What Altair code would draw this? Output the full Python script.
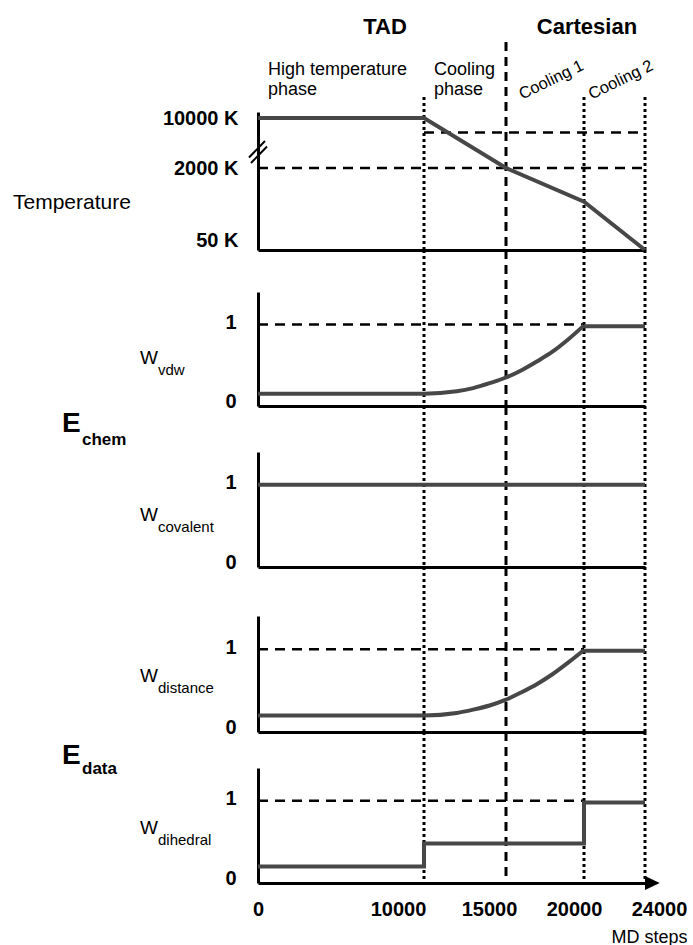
import altair as alt
import pandas as pd

FONT = "Liberation Sans"
LINE_COLOR = "#474747"

# ---------------- data ----------------
x_ticks = [0, 10000, 15000, 20000, 24000]
dotted_steps = [10000, 20000, 24000]
dashed_steps = [15000]

stage_names = ["TAD", "Cartesian"]
phase_names = ["High temperature\nphase", "Cooling\nphase"]
phase_start = [0, 10000]
cart_phase_names = ["Cooling 1", "Cooling 2"]
cart_phase_start = [15000, 20000]
cart_phase_end = [20000, 24000]

temp_steps = [0, 10000, 15000, 20000, 24000]
temp_K = [10000, 10000, 2000, 1200, 50]
temp_ticks = [50, 2000, 10000]
temp_ref_K = [2000, 7700]
temp_ref_from = [0, 10000]
temp_ref_to = [24000, 24000]

# ramps (flat start + rising curve up to 20000) and plateaus (20000-24000)
ramp_steps = [0, 10000, 12000, 13000, 14000, 15000, 16000, 17000, 18000, 19000, 20000]
vdw_w = [0.15, 0.15, 0.18, 0.22, 0.28, 0.35, 0.44, 0.55, 0.67, 0.82, 0.99]
dist_w = [0.2, 0.2, 0.23, 0.27, 0.32, 0.39, 0.48, 0.58, 0.70, 0.84, 0.99]
plateau_steps = [20000, 24000]
plateau_w = [0.98, 0.98]
cov_steps = [0, 24000]
cov_w = [1.0, 1.0]
dih_steps = [0, 10000, 20000, 24000]
dih_w = [0.2, 0.48, 0.98, 0.98]
w_ticks = [0, 1]
w_ref_level = [1.0]
w_ref_from = [0]
w_ref_to = [20000]

# ---------------- scales / axes ----------------
WIDTH = 387
XSCALE = alt.Scale(domain=x_ticks, range=[0, 166, 248, 326, 387], nice=False, zero=False)

AX_PLAIN = alt.Axis(labels=False, ticks=False, tickSize=0, grid=False, domainColor="black",
                    domainWidth=3, title=None)
AX_BOTTOM = alt.Axis(
    values=x_ticks, format="d", ticks=False, tickSize=0, grid=False, domainColor="black",
    domainWidth=3, labelFont=FONT, labelFontSize=20, labelFontWeight="bold", labelColor="black",
    labelPadding=16, labelFlush=False, labelOverlap=False,
    labelOffset={"condition": [
        {"test": "datum.value == 10000", "value": -26},
        {"test": "datum.value == 15000", "value": -17},
        {"test": "datum.value == 20000", "value": -10},
        {"test": "datum.value == 24000", "value": 14}], "value": 0},
    title="MD steps", titleFont=FONT, titleFontSize=18, titleFontWeight="normal",
    titleColor="black", titleAnchor="end", titleAlign="right", titleX=429, titleY=54,
    titleBaseline="middle")


def xenc(field, axis):
    return alt.X(f"{field}:Q", scale=XSCALE, axis=axis)


def note(text, x, y, size, weight="normal", align="left", baseline="middle"):
    return alt.Chart(pd.DataFrame({"t": [text]})).mark_text(
        font=FONT, fontSize=size, fontWeight=weight, align=align, baseline=baseline,
        color="black").encode(x=alt.value(x), y=alt.value(y), text="t:N")


def vrules(xaxis, top, bottom):
    dotted = alt.Chart(pd.DataFrame({"step": dotted_steps})).mark_rule(
        color="black", strokeWidth=3, strokeDash=[3, 3]).encode(
        x=xenc("step", xaxis), y=alt.value(top[0]), y2=alt.value(bottom))
    dashed = alt.Chart(pd.DataFrame({"step": dashed_steps})).mark_rule(
        color="black", strokeWidth=3, strokeDash=[9, 6]).encode(
        x=xenc("step", xaxis), y=alt.value(top[1]), y2=alt.value(bottom))
    return [dotted, dashed]


def w_axis():
    return alt.Axis(values=w_ticks, format="d", ticks=False, tickSize=0, grid=False,
                    domainColor="black", domainWidth=3, labelFont=FONT, labelFontSize=20,
                    labelFontWeight="bold", labelColor="black", labelPadding=22,
                    labelOffset={"condition": {"test": "datum.value == 0", "value": -5},
                                 "value": -2},
                    title=None)


def w_panel(segments, h, gap, sub, interp, ref, xaxis, wy, extra):
    ysc = alt.Scale(domain=[0, 1.4], range=[h, gap], nice=False, zero=False)
    yax = w_axis()
    layers = vrules(xaxis, (0, 0), h)
    if ref:
        layers.append(alt.Chart(pd.DataFrame({"step": w_ref_from, "end": w_ref_to,
                                              "w": w_ref_level})).mark_rule(
            color="black", strokeWidth=2.5, strokeDash=[10, 7]).encode(
            x=xenc("step", xaxis), x2="end:Q", y=alt.Y("w:Q", scale=ysc, axis=yax)))
    for steps, w in segments:
        layers.append(alt.Chart(pd.DataFrame({"step": steps, "w": w})).mark_line(
            color=LINE_COLOR, strokeWidth=4, interpolate=interp).encode(
            x=xenc("step", xaxis), y=alt.Y("w:Q", scale=ysc, axis=yax)))
    layers.append(note("W", -118, wy, 19))
    layers.append(note(sub, -100, wy + 12, 15))
    layers += extra
    return alt.layer(*layers).properties(width=WIDTH, height=h)


# ---------------- panel 1: temperature ----------------
H1 = 138
TSCALE = alt.Scale(domain=[50, 2000, 10000, 11000], range=[138, 56, 6, 0], nice=False, zero=False)
TAXIS = alt.Axis(values=temp_ticks, ticks=False, tickSize=0, grid=False, domainColor="black",
                 domainWidth=3, labelFont=FONT, labelFontSize=20, labelFontWeight="bold",
                 labelColor="black", labelPadding=20, labelExpr="datum.value + ' K'",
                 labelOffset={"condition": {"test": "datum.value == 50", "value": -10},
                              "value": 0},
                 title=None)

p1_layers = vrules(AX_PLAIN, (-15, -70), H1)
p1_layers.append(alt.Chart(pd.DataFrame({"step": temp_ref_from, "end": temp_ref_to,
                                         "temp": temp_ref_K})).mark_rule(
    color="black", strokeWidth=2.5, strokeDash=[10, 7]).encode(
    x=xenc("step", AX_PLAIN), x2="end:Q", y=alt.Y("temp:Q", scale=TSCALE, axis=TAXIS)))
p1_layers.append(alt.Chart(pd.DataFrame({"step": temp_steps, "temp": temp_K})).mark_line(
    color=LINE_COLOR, strokeWidth=4).encode(
    x=xenc("step", AX_PLAIN), y=alt.Y("temp:Q", scale=TSCALE, axis=TAXIS)))
# axis break
p1_layers.append(alt.Chart(pd.DataFrame({"b": [1]})).mark_point(
    shape="M-0.9,0.55L0.7,-1.1M-0.7,1.1L0.9,-0.55", size=400, filled=False,
    stroke="black", strokeWidth=2, opacity=1).encode(x=alt.value(0), y=alt.value(40)))
# headers
p1_layers.append(note(stage_names[0], 127, -85, 22, "bold", "center"))
p1_layers.append(note(stage_names[1], 329, -85, 22, "bold", "center"))
p1_layers.append(alt.Chart(pd.DataFrame({"name": phase_names, "start": phase_start})).mark_text(
    font=FONT, fontSize=18, align="left", baseline="top", dx=10, lineBreak="\n",
    lineHeight=20, color="black").encode(
    x=xenc("start", AX_PLAIN), y=alt.value(-51), text="name:N"))
p1_layers.append(alt.Chart(pd.DataFrame({"name": cart_phase_names, "start": cart_phase_start,
                                         "end": cart_phase_end}))
                 .transform_calculate(mid="(datum.start + datum.end) / 2")
                 .mark_text(font=FONT, fontSize=16.5, align="center", baseline="middle",
                            angle=334, dx=7, color="black")
                 .encode(x=xenc("mid", AX_PLAIN), y=alt.value(-29), text="name:N"))
p1_layers.append(note("Temperature", -245, 91, 21))
p1 = alt.layer(*p1_layers).properties(width=WIDTH, height=H1)

# ---------------- W panels ----------------
p2 = w_panel([(ramp_steps, vdw_w), (plateau_steps, plateau_w)], 156, 42, "vdw", "monotone",
             True, AX_PLAIN, 108, [])
p3 = w_panel([(cov_steps, cov_w)], 161, 46, "covalent", "linear", False, AX_PLAIN, 109,
             [note("E", -196, 18, 28, "bold"), note("chem", -176, 34, 17, "bold")])
p4 = w_panel([(ramp_steps, dist_w), (plateau_steps, plateau_w)], 165, 49, "distance",
             "monotone", True, AX_PLAIN, 109, [])
arrow = alt.Chart(pd.DataFrame({"step": [24000]})).mark_point(
    shape="M0,-1L2.1,0L0,1Z", size=196, filled=True, fill="black", strokeWidth=0,
    opacity=1).encode(x=xenc("step", AX_BOTTOM), y=alt.value(151))
p5 = w_panel([(dih_steps, dih_w)], 151, 36, "dihedral", "step-after", True, AX_BOTTOM, 96,
             [note("E", -196, 24, 28, "bold"), note("data", -176, 37, 17, "bold"), arrow])

chart = alt.vconcat(p1, p2, p3, p4, p5, spacing=0, bounds="flush").resolve_scale(
    x="independent", y="independent").properties(
    padding={"left": 13, "top": 16, "right": 0, "bottom": 0}).configure_view(strokeWidth=0)

chart.save("out.html", embed_options={"renderer": "svg", "actions": False})
